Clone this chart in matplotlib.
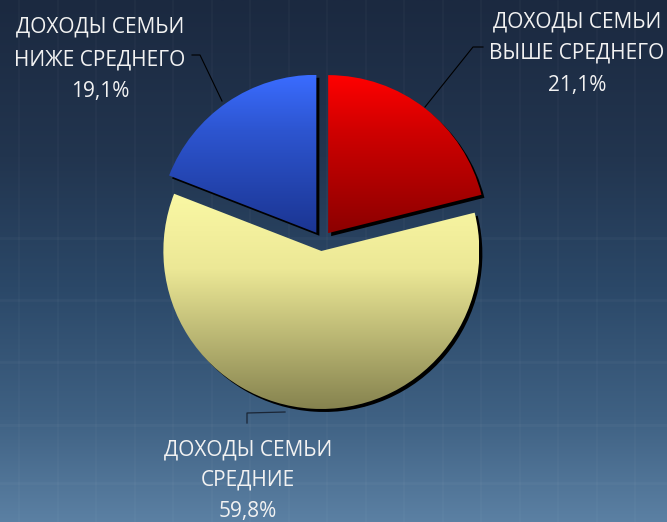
import numpy as np
import matplotlib
matplotlib.use("Agg")
import matplotlib.pyplot as plt
from matplotlib.colors import LinearSegmentedColormap
from matplotlib.transforms import Affine2D

# data
labels = ["ДОХОДЫ СЕМЬИ\nВЫШЕ СРЕДНЕГО", "ДОХОДЫ СЕМЬИ\nСРЕДНИЕ", "ДОХОДЫ СЕМЬИ\nНИЖЕ СРЕДНЕГО"]
values = [21.1, 59.8, 19.1]
pct_text = ["21,1%", "59,8%", "19,1%"]
# gradient stops (top -> bottom) for each slice
slice_grad = [["#ff0000", "#d00000", "#8c0000"],
              ["#faf8a4", "#ece896", "#86834f"],
              ["#3a6cff", "#2d55d0", "#1b3592"]]

W, H = 667, 522
fig = plt.figure(figsize=(W / 100, H / 100), dpi=100)
ax = fig.add_axes([0, 0, 1, 1])

# background gradient (dark at top, lighter steel blue at bottom)
bg = LinearSegmentedColormap.from_list(
    "bg", [(0, "#1b2940"), (0.3, "#22354f"), (0.55, "#2b4868"), (0.8, "#3f6183"), (1, "#5b80a3")])
grad = np.linspace(0, 1, 256).reshape(-1, 1)
ax.imshow(grad, cmap=bg, extent=[0, W, 0, H], origin="upper", aspect="auto", zorder=0)
for xv in np.arange(19, W, 38.5):
    ax.axvline(xv, color="white", alpha=0.025, lw=1.5, zorder=0.5)
for yv in [238, 300, 362, 425, 483]:
    ax.axhline(H - yv, color="white", alpha=0.03, lw=2, zorder=0.5)

cx, cy, R = 322, H - 241, 158
wedges, _ = ax.pie(values, center=(cx, cy), radius=R, explode=[10, 10, 10],
                   startangle=90, counterclock=False, frame=True,
                   wedgeprops=dict(facecolor="none", linewidth=0))

shift = Affine2D().translate(3, -3)
for w, stops in zip(wedges, slice_grad):
    w.set_zorder(3)
    # black drop shadow
    sh = matplotlib.patches.Wedge(w.center, w.r, w.theta1, w.theta2,
                                  facecolor="black", linewidth=0,
                                  transform=ax.transData + shift, zorder=2)
    ax.add_patch(sh)
    # vertical gradient fill spanning the slice's own height, clipped to it
    ext = w.get_path().get_extents()
    cm = LinearSegmentedColormap.from_list("g", list(zip([0, 0.35, 1], stops)))
    im = ax.imshow(grad, cmap=cm, extent=[ext.x0, ext.x1, ext.y0, ext.y1],
                   origin="upper", aspect="auto", zorder=2.5)
    im.set_clip_path(w)

ax.set_xlim(0, W)
ax.set_ylim(0, H)
ax.axis("off")

tkw = dict(color="#f2f2f2", fontsize=15, family="Open Sans", ha="center", va="center",
           zorder=5)
# label for "выше среднего"
ax.text(577, H - 22, "ДОХОДЫ СЕМЬИ", **tkw)
ax.text(577, H - 53, "ВЫШЕ СРЕДНЕГО", **tkw)
ax.text(577, H - 85, pct_text[0], **tkw)
ax.plot([483, 473, 425], [H - 47, H - 47, H - 107], color="black", lw=0.8, zorder=4)
# label for "ниже среднего"
ax.text(100, H - 27, "ДОХОДЫ СЕМЬИ", **tkw)
ax.text(100, H - 60, "НИЖЕ СРЕДНЕГО", **tkw)
ax.text(100, H - 92, pct_text[2], **tkw)
ax.plot([192, 200, 222], [H - 55, H - 55, H - 101], color="black", lw=0.8, zorder=4)
# label for "средние"
ax.text(248, H - 450, "ДОХОДЫ СЕМЬИ", **tkw)
ax.text(248, H - 480, "СРЕДНИЕ", **tkw)
ax.text(248, H - 511, pct_text[1], **tkw)
ax.plot([247, 247, 285], [H - 423, H - 413, H - 412], color="#1a2535", lw=0.9, zorder=4)

fig.savefig("out.png", dpi=100)
